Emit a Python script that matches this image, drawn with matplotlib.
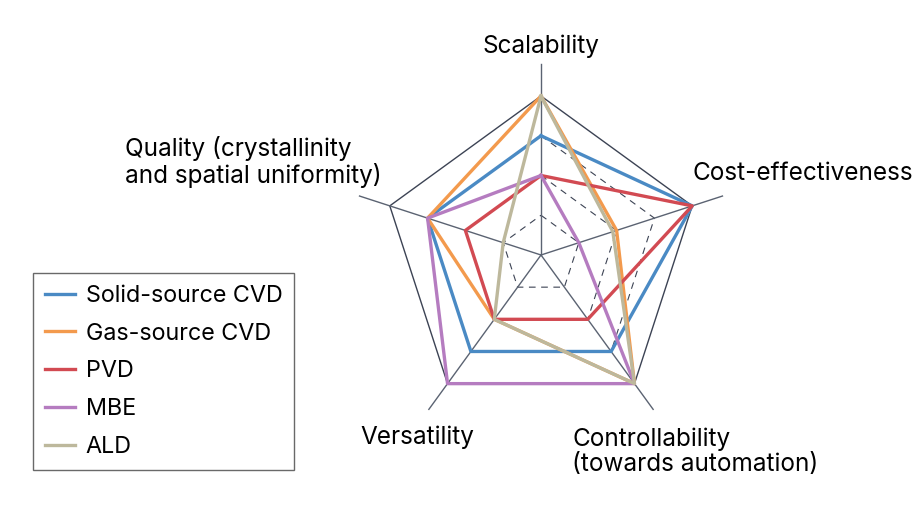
import numpy as np
import matplotlib
matplotlib.use('Agg')
import matplotlib.pyplot as plt

plt.rcParams['font.family'] = ['Inter', 'DejaVu Sans']

# axes, clockwise from the top
axes_names = ['Scalability', 'Cost-effectiveness', 'Controllability', 'Versatility', 'Quality']

methods = ['Solid-source CVD', 'Gas-source CVD', 'PVD', 'MBE', 'ALD']
solid_cvd = [3, 4, 3, 3, 3]
gas_cvd = [4, 2, 4, 2, 3]
pvd = [2, 4, 2, 2, 2]
mbe = [2, 1, 4, 4, 3]
ald = [4, 1.9, 4, 2, 1]
series = [solid_cvd, gas_cvd, pvd, mbe, ald]
colors = ['#4a8ac4', '#f39a4d', '#d24a52', '#b57cc0', '#bdb89c']

levels = [1, 2, 3, 4]
r_max = 4.8

W, H = 919, 528
fig = plt.figure(figsize=(W / 100, H / 100), dpi=100)

# center of the web at (541, 255) px, outer ring at 159 px
cx, cy, rad = 541, 255, 159 * r_max / 4
ax = fig.add_axes([(cx - rad) / W, (H - cy - rad) / H, 2 * rad / W, 2 * rad / H],
                  projection='polar')
ax.set_theta_offset(np.pi / 2)
ax.set_theta_direction(-1)
ax.set_ylim(0, r_max)
ax.axis('off')

theta = np.linspace(0, 2 * np.pi, len(axes_names), endpoint=False)
theta_c = np.append(theta, theta[0])

grid_col = '#3c4354'
for lv in levels:
    if lv == levels[-1]:
        ax.plot(theta_c, [lv] * len(theta_c), color=grid_col, lw=1.0, zorder=1)
    else:
        ax.plot(theta_c, [lv] * len(theta_c), color=grid_col, lw=0.8,
                linestyle=(0, (6, 5)), zorder=1)

for t in theta:
    ax.plot([t, t], [0, r_max], color='#5b6372', lw=1.0, zorder=1, clip_on=False)

for name, vals, c in zip(methods, series, colors):
    v = list(vals) + [vals[0]]
    ax.plot(theta_c, v, color=c, lw=1.5, label=name, zorder=3)

fs = 17.5
fig.text(541 / W, 1 - 46 / H, 'Scalability', ha='center', va='center', fontsize=fs)
fig.text(693 / W, 1 - 174 / H, 'Cost-effectiveness', ha='left', va='center', fontsize=fs)
fig.text(572 / W, 1 - 452 / H, 'Controllability\n(towards automation)', ha='left',
         va='center', fontsize=fs, linespacing=1.1)
fig.text(360 / W, 1 - 437 / H, 'Versatility', ha='left', va='center', fontsize=fs)
fig.text(125 / W, 1 - 162 / H, 'Quality (crystallinity\nand spatial uniformity)',
         ha='left', va='center', fontsize=fs, linespacing=1.1)

handles, labels = ax.get_legend_handles_labels()
for h in handles:
    h.set_linewidth(2.4)
leg = fig.legend(handles, labels, loc='upper left',
                 bbox_to_anchor=(33 / W, 1 - 273 / H), borderaxespad=0,
                 fontsize=16.8, frameon=True, fancybox=False, handlelength=1.3,
                 handletextpad=0.45, labelspacing=0.68, borderpad=0.5)
leg.get_frame().set_edgecolor('#444444')
leg.get_frame().set_linewidth(1.0)

fig.savefig('out.png', dpi=100)
